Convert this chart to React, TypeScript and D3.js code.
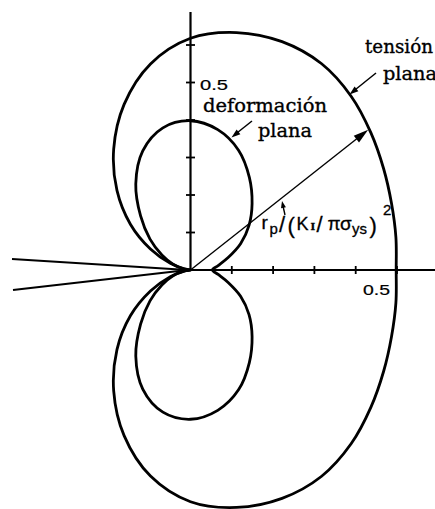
import React from "react";
import * as d3 from "d3";

// polar angle (degrees) measured from the crack-ahead direction
const angles = [0, 10, 20, 30, 40, 50, 60, 70, 80, 90, 100, 110, 120, 130, 140, 150, 160, 170, 180];
// r_p / (K_I/πσ_ys)^2
const planeStressR = [0.498, 0.505, 0.518, 0.54, 0.57, 0.605, 0.635, 0.648, 0.643, 0.618, 0.558, 0.47, 0.372, 0.277, 0.19, 0.112, 0.052, 0.014, 0];
const planeStrainR = [0.053, 0.068, 0.097, 0.14, 0.185, 0.232, 0.285, 0.34, 0.38, 0.398, 0.385, 0.338, 0.265, 0.188, 0.128, 0.08, 0.045, 0.016, 0];
const xTicks = [0.1, 0.2, 0.3, 0.4, 0.5];
const yTicks = [0.1, 0.2, 0.3, 0.4, 0.5, 0.6];
const xTickLabel = "0.5";
const yTickLabel = "0.5";
const radialArrow = { r: 0.57, theta: 41 };
const labels = {
  stress1: "tensión",
  stress2: "plana",
  strain1: "deformación",
  strain2: "plana",
};

const W = 435;
const H = 509;

function loopPoints(rs: number[]): [number, number][] {
  const pts: [number, number][] = [];
  angles.forEach((a, i) => {
    const t = (a * Math.PI) / 180;
    pts.push([rs[i] * Math.cos(t), rs[i] * Math.sin(t)]);
  });
  for (let i = angles.length - 2; i >= 1; i--) {
    const t = (angles[i] * Math.PI) / 180;
    pts.push([rs[i] * Math.cos(t), -rs[i] * Math.sin(t)]);
  }
  return pts;
}

function arrowHead(tx: number, ty: number, fx: number, fy: number, len: number, wid: number) {
  const dx = tx - fx;
  const dy = ty - fy;
  const d = Math.hypot(dx, dy);
  const ux = dx / d;
  const uy = dy / d;
  const bx = tx - ux * len;
  const by = ty - uy * len;
  const px = -uy * (wid / 2);
  const py = ux * (wid / 2);
  return `${tx},${ty} ${bx + px},${by + py} ${bx - px},${by - py}`;
}

export default function App() {
  const x = d3.scaleLinear().domain([0, 0.5]).range([190.5, 397]);
  const y = d3.scaleLinear().domain([0, 0.6]).range([270, 45]);

  const line = d3
    .line<[number, number]>()
    .x((d) => x(d[0]))
    .y((d) => y(d[1]))
    .curve(d3.curveCatmullRomClosed.alpha(0.5));

  const outerPath = line(loopPoints(planeStressR)) || "";
  const innerPath = line(loopPoints(planeStrainR)) || "";

  const x0 = x(0);
  const y0 = y(0);
  const at = (radialArrow.theta * Math.PI) / 180;
  const ax = x(radialArrow.r * Math.cos(at));
  const ay = y(radialArrow.r * Math.sin(at));

  const serif = "'DejaVu Serif', serif";
  const sans = "'Liberation Sans', Arial, sans-serif";
  const txt = { fill: "#000", stroke: "#000", strokeWidth: 0.35 };

  return (
    <svg
      width={W}
      height={H}
      viewBox={`0 0 ${W} ${H}`}
      style={{ position: "absolute", left: 0, top: 0, background: "#fff" }}
    >
      <rect x={0} y={0} width={W} height={H} fill="#fff" />
      {/* crack flanks */}
      <line x1={12} y1={259} x2={x0 - 3} y2={y0} stroke="#000" strokeWidth={2.2} />
      <line x1={13} y1={290} x2={x0 - 3} y2={y0} stroke="#000" strokeWidth={2.2} />
      {/* axes */}
      <line x1={x0} y1={12} x2={x0} y2={y0} stroke="#000" strokeWidth={2.2} />
      <line x1={x0} y1={y0} x2={W} y2={y0} stroke="#000" strokeWidth={2.2} />
      {xTicks.map((t) => (
        <line key={"xt" + t} x1={x(t)} x2={x(t)} y1={y0 - 4} y2={y0 + 4} stroke="#000" strokeWidth={1.8} />
      ))}
      {yTicks.map((t) => (
        <line key={"yt" + t} x1={x0 - 4.5} x2={x0 + 4.5} y1={y(t)} y2={y(t)} stroke="#000" strokeWidth={1.8} />
      ))}
      <text x={200} y={90} fontFamily={sans} fontSize={14.5} {...txt} strokeWidth={0.2} textLength={28} lengthAdjust="spacingAndGlyphs">
        {yTickLabel}
      </text>
      <text x={363} y={295} fontFamily={sans} fontSize={14.5} {...txt} strokeWidth={0.2} textLength={27} lengthAdjust="spacingAndGlyphs">
        {xTickLabel}
      </text>

      {/* plastic zones */}
      <path d={outerPath} fill="none" stroke="#000" strokeWidth={2.8} />
      <path d={innerPath} fill="none" stroke="#000" strokeWidth={2.8} />

      {/* radial arrow */}
      <line x1={x0} y1={y0} x2={ax - 6} y2={ay + 4.7} stroke="#000" strokeWidth={1.4} />
      <polygon points={arrowHead(ax, ay, x0, y0, 15, 8.5)} fill="#000" />

      {/* leader arrows */}
      <line x1={376} y1={73} x2={353} y2={91.5} stroke="#000" strokeWidth={1.5} />
      <polygon points={arrowHead(349.5, 94.5, 376, 73, 9, 6)} fill="#000" />
      <line x1={252} y1={121} x2={235} y2={134.5} stroke="#000" strokeWidth={1.5} />
      <polygon points={arrowHead(231.5, 137.5, 252, 121, 9, 6)} fill="#000" />
      <line x1={285} y1={215} x2={283} y2={206} stroke="#000" strokeWidth={1.4} />
      <polygon points={arrowHead(282, 201, 285, 215, 7, 5)} fill="#000" />

      {/* labels */}
      <text x={365} y={53} fontFamily={serif} fontSize={19} {...txt} textLength={68} lengthAdjust="spacingAndGlyphs">
        {labels.stress1}
      </text>
      <text x={383} y={80} fontFamily={serif} fontSize={19} {...txt} textLength={54} lengthAdjust="spacingAndGlyphs">
        {labels.stress2}
      </text>
      <text x={203} y={112} fontFamily={serif} fontSize={19} {...txt} textLength={124} lengthAdjust="spacingAndGlyphs">
        {labels.strain1}
      </text>
      <text x={258} y={137} fontFamily={serif} fontSize={19} {...txt} textLength={54} lengthAdjust="spacingAndGlyphs">
        {labels.strain2}
      </text>

      {/* axis quantity label */}
      <g fontFamily={sans} {...txt} strokeWidth={0.3}>
        <text x={261.5} y={229} fontSize={19}>r</text>
        <text x={269.5} y={233.5} fontSize={15}>p</text>
        <text x={279} y={232} fontSize={22}>/</text>
        <text x={287.5} y={233} fontSize={22}>(</text>
        <text x={296.5} y={230} fontSize={18}>K</text>
        <text x={310.5} y={230} fontSize={10} fontFamily={serif} fontWeight="bold">I</text>
        <text x={316.5} y={232} fontSize={22}>/</text>
        <text x={327.5} y={230} fontSize={19}>π</text>
        <text x={340} y={230} fontSize={19}>σ</text>
        <text x={352} y={233.5} fontSize={15}>ys</text>
        <text x={369.5} y={233} fontSize={22}>)</text>
        <text x={383} y={215} fontSize={15}>2</text>
      </g>
    </svg>
  );
}
